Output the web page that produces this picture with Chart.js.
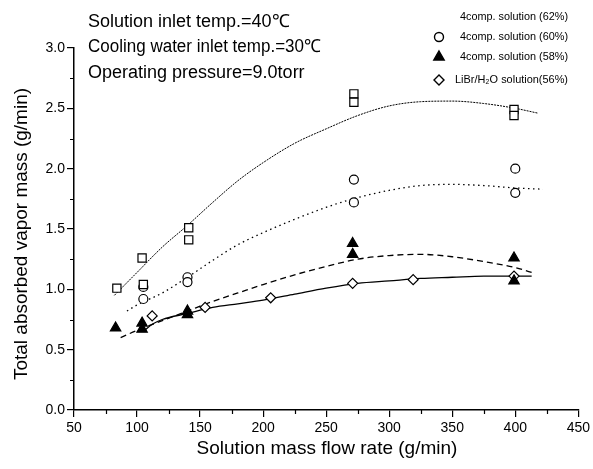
<!DOCTYPE html>
<html>
<head>
<meta charset="utf-8">
<script src="https://cdn.jsdelivr.net/npm/chart.js@4.4.0/dist/chart.umd.min.js"></script>
<style>
html, body { margin: 0; padding: 0; background: #fff; }
</style>
</head>
<body>
<canvas id="myChart" width="593" height="469"></canvas>
<script>
var sq62X = [84, 104, 105, 141, 141, 272, 272, 399, 399];
var sq62Y = [1.01, 1.26, 1.04, 1.51, 1.41, 2.62, 2.55, 2.49, 2.44];
var ci60X = [105, 105, 140, 140, 272, 272, 400, 400];
var ci60Y = [1.02, 0.92, 1.10, 1.06, 1.91, 1.72, 2.00, 1.80];
var tr58X = [83, 104, 104, 140, 140, 271, 271, 399, 399];
var tr58Y = [0.68, 0.72, 0.67, 0.82, 0.79, 1.38, 1.29, 1.26, 1.07];
var di56X = [112, 154, 206, 271, 319, 399];
var di56Y = [0.78, 0.85, 0.93, 1.05, 1.08, 1.11];

// Fitted curves
var fit62X = [82, 100, 120, 140, 160, 180, 200, 225, 250, 275, 300, 325, 350, 375, 400, 418];
var fit62Y = [0.95, 1.14, 1.35, 1.53, 1.72, 1.90, 2.05, 2.21, 2.33, 2.44, 2.52, 2.555, 2.56, 2.54, 2.50, 2.46];
var fit60X = [92, 100, 120, 140, 160, 180, 200, 225, 250, 275, 300, 325, 350, 375, 400, 422];
var fit60Y = [0.82, 0.87, 0.97, 1.10, 1.24, 1.37, 1.47, 1.58, 1.68, 1.76, 1.82, 1.86, 1.87, 1.86, 1.84, 1.83];
var fit58X = [87, 100, 120, 140, 160, 180, 200, 225, 250, 275, 300, 325, 350, 375, 400, 416];
var fit58Y = [0.60, 0.66, 0.74, 0.82, 0.90, 0.97, 1.04, 1.12, 1.19, 1.25, 1.28, 1.29, 1.27, 1.23, 1.18, 1.13];
var fit56X = [106, 112, 120, 140, 160, 180, 200, 225, 250, 275, 300, 325, 350, 375, 400, 413];
var fit56Y = [0.66, 0.71, 0.75, 0.80, 0.85, 0.88, 0.91, 0.96, 1.01, 1.05, 1.07, 1.09, 1.10, 1.11, 1.11, 1.11];

var xMinorTicks = [75, 125, 175, 225, 275, 325, 375, 425];
var yMinorTicks = [0.25, 0.75, 1.25, 1.75, 2.25, 2.75];

var notes = ['Solution inlet temp.=40\u2103', 'Cooling water inlet temp.=30\u2103', 'Operating pressure=9.0torr'];
var legendLabels = ['4comp. solution (62%)', '4comp. solution (60%)', '4comp. solution (58%)', 'LiBr/H\u2082O solution(56%)'];

var FONT = '"Liberation Sans", Arial, sans-serif';

function toPoints(xs, ys) {
    return xs.map(function(x, i) { return { x: x, y: ys[i] }; });
}

function markerSet(xs, ys, style, radius, fill) {
    return {
        type: 'scatter',
        data: toPoints(xs, ys),
        pointStyle: style,
        pointRadius: radius,
        pointHoverRadius: radius,
        pointBorderWidth: 1.2,
        borderColor: '#000',
        backgroundColor: fill,
        showLine: false
    };
}

function curveSet(xs, ys, dash, width) {
    return {
        type: 'line',
        data: toPoints(xs, ys),
        borderColor: '#000',
        borderWidth: width,
        borderDash: dash,
        pointRadius: 0,
        fill: false,
        cubicInterpolationMode: 'monotone'
    };
}

// Minor ticks, notes, axis titles and the legend
var extrasPlugin = {
    id: 'extras',
    afterDraw: function(chart) {
        var ctx = chart.ctx;
        var xs = chart.scales.x, ys = chart.scales.y;
        var area = chart.chartArea;
        ctx.save();
        ctx.strokeStyle = '#000';
        ctx.lineWidth = 1.2;
        ctx.beginPath();
        xMinorTicks.forEach(function(v) {
            var px = Math.round(xs.getPixelForValue(v)) + 0.5;
            ctx.moveTo(px, area.bottom);
            ctx.lineTo(px, area.bottom + 4);
        });
        yMinorTicks.forEach(function(v) {
            var py = Math.round(ys.getPixelForValue(v)) + 0.5;
            ctx.moveTo(area.left, py);
            ctx.lineTo(area.left - 4, py);
        });
        ctx.stroke();

        ctx.fillStyle = '#000';
        ctx.textBaseline = 'middle';
        ctx.textAlign = 'left';
        ctx.font = '18px ' + FONT;
        var noteW = [203, 233, 217];
        notes.forEach(function(t, i) {
            ctx.fillText(t, 88, 22 + i * 25.5, noteW[i]);
        });

        // axis titles
        ctx.textAlign = 'center';
        ctx.font = '19px ' + FONT;
        ctx.fillText('Solution mass flow rate (g/min)', 327, 449, 321);
        ctx.save();
        ctx.translate(22, 234);
        ctx.rotate(-Math.PI / 2);
        ctx.fillText('Total absorbed vapor mass (g/min)', 0, 0, 292);
        ctx.restore();

        // legend
        ctx.textAlign = 'left';
        ctx.font = '11px ' + FONT;
        var legY = [17, 37, 57, 80];
        var styles = [null, 'circle', 'triangle', 'rectRot'];
        var fills = [null, '#fff', '#000', '#fff'];
        var radii = [0, 4.5, 6, 5];
        legendLabels.forEach(function(t, i) {
            if (styles[i]) {
                ctx.fillStyle = fills[i];
                ctx.strokeStyle = '#000';
                ctx.lineWidth = 1.4;
                Chart.helpers.drawPoint(ctx, { pointStyle: styles[i], radius: radii[i], rotation: 0, borderWidth: 1.4 }, 439, legY[i]);
            }
            ctx.fillStyle = '#000';
            var tx = i === 3 ? 455 : 460;
            ctx.fillText(t, tx, legY[i], 568 - tx);
        });
        ctx.restore();
    }
};

var ctx = document.getElementById('myChart').getContext('2d');

var config = {
    data: {
        datasets: [
            markerSet(sq62X, sq62Y, 'rect', 5.8, '#fff'),
            markerSet(ci60X, ci60Y, 'circle', 4.5, '#fff'),
            markerSet(tr58X, tr58Y, 'triangle', 6, '#000'),
            markerSet(di56X, di56Y, 'rectRot', 5, '#fff'),
            curveSet(fit62X, fit62Y, [2, 1], 1),
            curveSet(fit60X, fit60Y, [1.5, 3.5], 1.3),
            curveSet(fit58X, fit58Y, [6, 4], 1.3),
            curveSet(fit56X, fit56Y, [], 1.3)
        ]
    },
    options: {
        responsive: false,
        animation: false,
        layout: { padding: { top: 48, right: 13, left: 0, bottom: 0 } },
        plugins: {
            legend: { display: false },
            tooltip: { enabled: false }
        },
        scales: {
            x: {
                type: 'linear',
                min: 50,
                max: 450,
                afterFit: function(scale) { scale.height = 59; },
                border: { display: true, color: '#000', width: 1.5 },
                grid: { display: true, drawOnChartArea: false, drawTicks: true, tickLength: 7, color: '#000', lineWidth: 1.2 },
                ticks: {
                    stepSize: 50,
                    autoSkip: false,
                    maxRotation: 0,
                    padding: 3,
                    color: '#000',
                    font: { family: FONT, size: 14 }
                }
            },
            y: {
                type: 'linear',
                min: 0,
                max: 3,
                afterFit: function(scale) { scale.width = 74; },
                border: { display: true, color: '#000', width: 1.5 },
                grid: { display: true, drawOnChartArea: false, drawTicks: true, tickLength: 7, color: '#000', lineWidth: 1.2 },
                ticks: {
                    stepSize: 0.5,
                    autoSkip: false,
                    padding: 2,
                    color: '#000',
                    font: { family: FONT, size: 14 },
                    callback: function(v) { return v.toFixed(1); }
                }
            }
        }
    },
    plugins: [extrasPlugin]
};

var myChart = new Chart(ctx, config);
</script>
</body>
</html>
